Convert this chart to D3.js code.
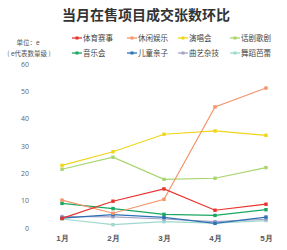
<!DOCTYPE html>
<html><head><meta charset="utf-8">
<script src="https://cdn.jsdelivr.net/npm/d3@7"></script>
<style>body{margin:0;background:#fff;}svg{display:block;font-family:"Noto Sans CJK SC","Noto Sans",sans-serif;}</style>
</head><body><svg id="c" width="287" height="250"></svg>
<script>
const months = ["1月","2月","3月","4月","5月"];
const seriesNames = ["体育赛事","休闲娱乐","演唱会","话剧歌剧","音乐会","儿童亲子","曲艺杂技","舞蹈芭蕾"];
const sports   = [3.5, 9.8, 14.3, 6.5, 8.7];
const leisure  = [10.2, 5.4, 10.5, 44.3, 51.2];
const concert  = [22.9, 27.9, 34.3, 35.5, 33.9];
const drama    = [21.5, 25.9, 17.8, 18.2, 22.1];
const music    = [9.0, 7.1, 5.0, 4.6, 6.7];
const kids     = [3.6, 4.9, 3.9, 1.7, 4.0];
const quyi     = [4.2, 4.1, 3.3, 2.3, 3.2];
const dance    = [3.3, 1.2, 2.3, 1.8, 2.7];
const yTicks = [0,10,20,30,40,50,60];
const colors = ["#e8322b","#f4956b","#f0d51a","#a9d46f","#19a862","#2e70b5","#a3a3c6","#9fd8cd"];

const data = [sports, leisure, concert, drama, music, kids, quyi, dance];
const svg = d3.select("#c");

svg.append("text").attr("x",146).attr("y",20).attr("text-anchor","middle")
  .attr("font-size",14).attr("font-weight","bold").attr("fill","#333").text("当月在售项目成交张数环比");

svg.append("text").attr("x",28).attr("y",45).attr("text-anchor","middle").attr("font-size",6.5).attr("fill","#555").text("单位：e");
svg.append("text").attr("x",29).attr("y",56).attr("text-anchor","middle").attr("font-size",6.5).attr("fill","#555").text("( e代表数量级 )");

const legX = [72,127,178,230];
const legY = [38,53];
seriesNames.forEach((n,i)=>{
  const g = svg.append("g").attr("transform",`translate(${legX[i%4]},${legY[Math.floor(i/4)]})`);
  g.append("line").attr("x1",0).attr("x2",10).attr("y1",0).attr("y2",0).attr("stroke",colors[i]).attr("stroke-width",1.3);
  g.append("rect").attr("x",3.5).attr("y",-1.5).attr("width",3).attr("height",3).attr("fill",colors[i]);
  g.append("text").attr("x",11).attr("y",3).attr("font-size",7.5).attr("fill","#444").text(n);
});

const x = d3.scalePoint().domain(months).range([62,266]);
const y = d3.scaleLinear().domain([0,60]).range([228,64]);

const yAxis = svg.append("g").attr("transform","translate(29,0)")
  .call(d3.axisLeft(y).tickValues(yTicks).tickSize(0).tickPadding(0));
yAxis.select(".domain").remove();
yAxis.selectAll("text").attr("font-size",7).attr("fill","#666").attr("font-family","'Open Sans',sans-serif");

const xAxis = svg.append("g").attr("transform","translate(0,234)")
  .call(d3.axisBottom(x).tickSize(0).tickPadding(0));
xAxis.select(".domain").remove();
xAxis.selectAll("text").attr("font-size",8).attr("fill","#555").attr("font-weight","bold").attr("dy","0.9em");

const line = d3.line().x((d,i)=>x(months[i])).y(d=>y(d));
const order = [7,6,5,4,3,2,1,0];
order.forEach(i=>{
  svg.append("path").attr("d",line(data[i])).attr("fill","none").attr("stroke",colors[i]).attr("stroke-width",1.2);
  svg.selectAll(null).data(data[i]).enter().append("rect")
    .attr("x",(d,j)=>x(months[j])-1.7).attr("y",d=>y(d)-1.7).attr("width",3.4).attr("height",3.4).attr("fill",colors[i]);
});
</script></body></html>
